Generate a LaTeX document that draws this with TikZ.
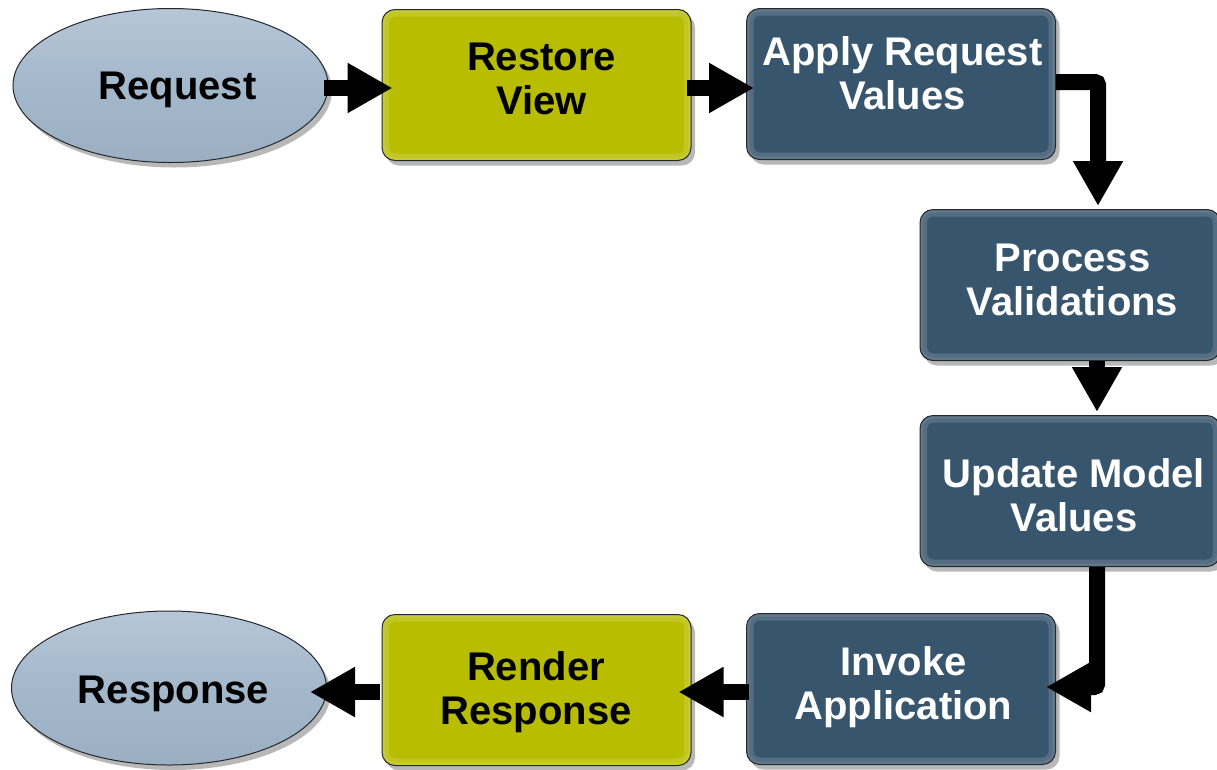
\documentclass[tikz,border=0pt]{standalone}
\usepackage{fontspec}
\setmainfont{Liberation Sans}
\usetikzlibrary{shapes.geometric,arrows.meta,shadows}

\definecolor{phaseblue}{RGB}{56,85,110}
\definecolor{phaselime}{RGB}{184,189,0}
\definecolor{endblue}{RGB}{164,184,204}
\definecolor{edgegray}{RGB}{36,40,44}

\tikzset{
  softshadow/.style={drop shadow={shadow xshift=4pt,shadow yshift=-5pt,opacity=0.28,fill=black}},
  % light rim just inside the outline, for a bevelled look
  bevel/.style={path picture={
      \draw[white, opacity=0.14, line width=14pt, rounded corners=#1]
        (path picture bounding box.south west) rectangle (path picture bounding box.north east);
      \draw[white, opacity=0.08, line width=6pt, rounded corners=#1]
        (path picture bounding box.south west) rectangle (path picture bounding box.north east);}},
  phase/.style={rectangle, rounded corners=13pt, minimum width=309pt, minimum height=151pt,
    draw=edgegray, line width=1pt, softshadow, bevel=13pt},
  darkphase/.style={phase, fill=phaseblue},
  limephase/.style={phase, fill=phaselime},
  endpoint/.style={ellipse, minimum width=315pt, minimum height=154pt, inner sep=0pt,
    draw=edgegray, line width=1pt, softshadow,
    top color=endblue!80!white, bottom color=endblue!95!black, middle color=endblue},
  caption/.style={align=center, inner sep=0pt, text depth=0pt,
    font=\bfseries\fontsize{40}{44}\selectfont},
  whitecap/.style={caption, text=white},
  blackcap/.style={caption, text=black},
  flow/.style={line width=16pt, draw=black,
    -{Triangle[length=45pt,width=47pt]}},
}

\begin{document}
\begin{tikzpicture}[x=1pt,y=-1pt]
  \useasboundingbox (0,0) rectangle (1217,769);

  % request / response end points
  \node[endpoint] (req)  at (170.5,85.5) {};
  \node[endpoint] (resp) at (169,688)    {};
  \node[blackcap] (req-t)  at (177.5,85.5) {Request};
  \node[blackcap] (resp-t) at (173.5,690)  {Response};

  % top row
  \node[limephase] (rv) at (536.5,85) {};
  \node[darkphase] (ap) at (901,84)   {};
  \node[blackcap] (rv-t) at (541.5,79)   {Restore\\View};
  \node[whitecap] (ap-t) at (902.5,73.5) {Apply Request\\Values};

  % right column (boxes touch the right border)
  \node[darkphase, minimum width=300pt] (pv) at (1070,285) {};
  \node[darkphase, minimum width=300pt] (um) at (1070,491) {};
  \node[whitecap] (pv-t) at (1072.5,280)   {Process\\Validations};
  \node[whitecap] (um-t) at (1074,494.5)   {Update Model\\Values};

  % bottom row
  \node[darkphase] (ia) at (901,689)   {};
  \node[limephase] (rr) at (536.5,690) {};
  \node[whitecap] (ia-t) at (903.5,682.5) {Invoke\\Application};
  \node[blackcap] (rr-t) at (536,687.5)   {Render\\Response};

  % connectors of the life cycle
  \draw[flow] ([xshift=-5pt,yshift=-2.5pt]req.east) -- ([xshift=11pt,yshift=-3pt]rv.west);
  \draw[flow] ([xshift=-5pt,yshift=-3pt]rv.east) -- ([xshift=8pt,yshift=-4pt]ap.west);
  \draw[flow, rounded corners=3pt] ([yshift=2pt]ap.east) -| ([xshift=28pt,yshift=3pt]pv.north);
  \draw[flow] ([xshift=27pt]pv.south) -- ([xshift=27pt,yshift=3pt]um.north);
  \draw[flow, rounded corners=3pt] ([xshift=27pt]um.south) |- ([xshift=-10pt,yshift=2pt]ia.east);
  \draw[flow] ([xshift=3pt,yshift=-3pt]ia.west) -- ([xshift=-13pt,yshift=-2pt]rr.east);
  \draw[flow] ([xshift=-2pt,yshift=-2pt]rr.west) -- ([xshift=-17pt,yshift=-4pt]resp.east);
\end{tikzpicture}
\end{document}
